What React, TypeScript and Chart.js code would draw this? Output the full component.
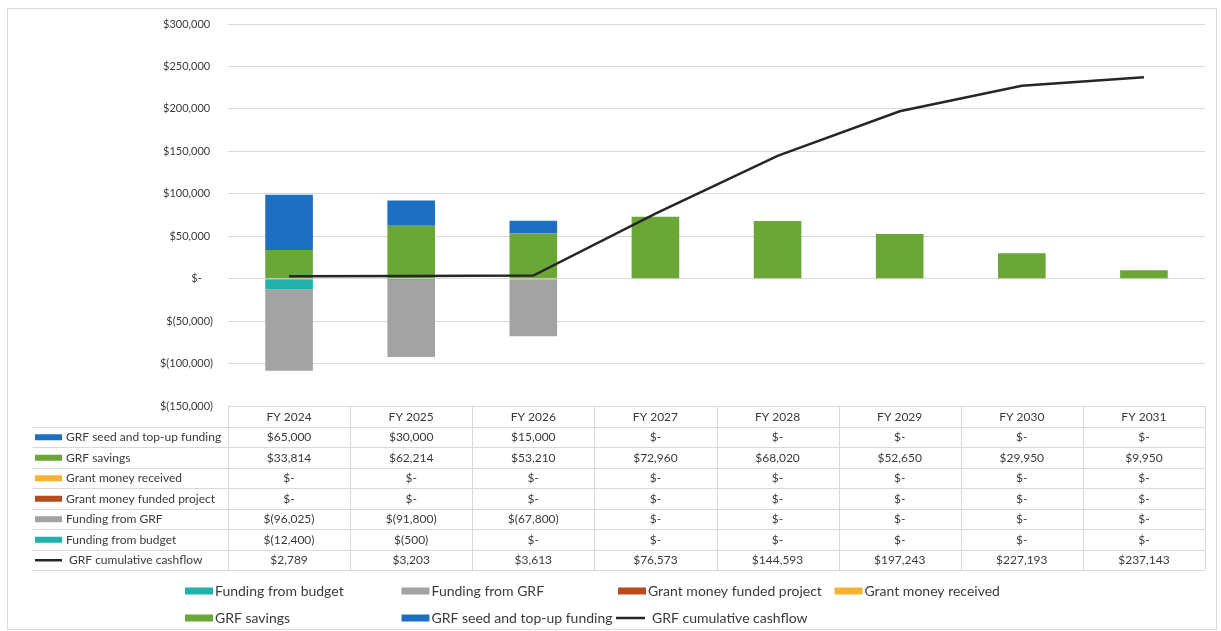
import React, { useEffect, useRef } from "react";
import { Chart, registerables } from "chart.js";

Chart.register(...registerables);

// ---------------- data ----------------
const categories = ["FY 2024", "FY 2025", "FY 2026", "FY 2027", "FY 2028", "FY 2029", "FY 2030", "FY 2031"];
const fundingFromBudget = [-12400, -500, 0, 0, 0, 0, 0, 0];
const fundingFromGRF = [-96025, -91800, -67800, 0, 0, 0, 0, 0];
const grantMoneyFundedProject = [0, 0, 0, 0, 0, 0, 0, 0];
const grantMoneyReceived = [0, 0, 0, 0, 0, 0, 0, 0];
const grfSavings = [33814, 62214, 53210, 72960, 68020, 52650, 29950, 9950];
const grfSeedTopUp = [65000, 30000, 15000, 0, 0, 0, 0, 0];
const grfCumulative = [2789, 3203, 3613, 76573, 144593, 197243, 227193, 237143];
const yMin = -150000;
const yMax = 300000;
const yStep = 50000;

// ---------------- styles ----------------
const FONT = "Lato, 'Noto Sans', 'DejaVu Sans', sans-serif";
const TEXT = "#3A3A3A";
const GRID = "#D9D9D9";
const C_BUDGET = "#22B2AC";
const C_GRF = "#A3A3A3";
const C_FUNDED = "#B94A1C";
const C_RECEIVED = "#F5B335";
const C_SAVINGS = "#6AA736";
const C_SEED = "#1D6FC1";
const C_LINE = "#262626";

function fmt(v: number): string {
  if (v === 0) return "$-";
  const a = Math.abs(Math.round(v)).toString().replace(/\B(?=(\d{3})+(?!\d))/g, ",");
  return v < 0 ? "$(" + a + ")" : "$" + a;
}

type Row = { label: string; data: number[]; color: string; line?: boolean };

const tableRows: Row[] = [
  { label: "GRF seed and top-up funding", data: grfSeedTopUp, color: C_SEED },
  { label: "GRF savings", data: grfSavings, color: C_SAVINGS },
  { label: "Grant money received", data: grantMoneyReceived, color: C_RECEIVED },
  { label: "Grant money funded project", data: grantMoneyFundedProject, color: C_FUNDED },
  { label: "Funding from GRF", data: fundingFromGRF, color: C_GRF },
  { label: "Funding from budget", data: fundingFromBudget, color: C_BUDGET },
  { label: "GRF cumulative cashflow", data: grfCumulative, color: C_LINE, line: true },
];

const legendRows: Row[][] = [
  [
    { label: "Funding from budget", data: fundingFromBudget, color: C_BUDGET },
    { label: "Funding from GRF", data: fundingFromGRF, color: C_GRF },
    { label: "Grant money funded project", data: grantMoneyFundedProject, color: C_FUNDED },
    { label: "Grant money received", data: grantMoneyReceived, color: C_RECEIVED },
  ],
  [
    { label: "GRF savings", data: grfSavings, color: C_SAVINGS },
    { label: "GRF seed and top-up funding", data: grfSeedTopUp, color: C_SEED },
    { label: "GRF cumulative cashflow", data: grfCumulative, color: C_LINE, line: true },
  ],
];

const framePlugin = {
  id: "frame",
  beforeDraw(chart: any) {
    const { ctx, width, height } = chart;
    ctx.save();
    ctx.fillStyle = "#ffffff";
    ctx.fillRect(0, 0, width, height);
    ctx.strokeStyle = "#DADADA";
    ctx.lineWidth = 1;
    ctx.strokeRect(7.5, 8.5, 1209, 621);
    ctx.restore();
  },
};

const tablePlugin = {
  id: "dataTable",
  afterDraw(chart: any) {
    const { ctx, chartArea } = chart;
    const xs = chart.scales.x;
    const left = chartArea.left;
    const right = chartArea.right;
    const top = chartArea.bottom;
    const rowH = 20.5;
    const nRows = tableRows.length + 1;
    const tableLeft = 32;
    const colW = (right - left) / categories.length;
    ctx.save();
    ctx.strokeStyle = GRID;
    ctx.lineWidth = 1;
    ctx.beginPath();
    for (let k = 1; k <= nRows; k++) {
      const y = Math.round(top + k * rowH) + 0.5;
      ctx.moveTo(tableLeft, y);
      ctx.lineTo(right, y);
    }
    for (let j = 0; j <= categories.length; j++) {
      const x = Math.round(left + j * colW) + 0.5;
      ctx.moveTo(x, top);
      ctx.lineTo(x, top + nRows * rowH);
    }
    ctx.stroke();

    ctx.fillStyle = TEXT;
    ctx.font = `12px ${FONT}`;
    ctx.textBaseline = "middle";
    ctx.textAlign = "center";
    categories.forEach((c, i) => ctx.fillText(c, xs.getPixelForValue(i), top + rowH / 2 + 0.5));

    tableRows.forEach((row, r) => {
      const cy = top + (r + 1.5) * rowH + 0.5;
      if (row.line) {
        ctx.strokeStyle = row.color;
        ctx.lineWidth = 2.5;
        ctx.beginPath();
        ctx.moveTo(35, cy);
        ctx.lineTo(62, cy);
        ctx.stroke();
      } else {
        ctx.fillStyle = row.color;
        ctx.fillRect(35, cy - 3, 27, 6);
      }
      ctx.fillStyle = TEXT;
      ctx.textAlign = "left";
      ctx.fillText(row.label, row.line ? 69 : 66, cy);
      ctx.textAlign = "center";
      row.data.forEach((v, i) => ctx.fillText(fmt(v), xs.getPixelForValue(i), cy));
    });

    // bottom legend
    const legStartX = 185;
    const legColW = 216.5;
    const legY = [591, 618];
    ctx.font = `14px ${FONT}`;
    legendRows.forEach((items, ri) => {
      items.forEach((it, ci) => {
        const x0 = legStartX + ci * legColW;
        const cy = legY[ri];
        if (it.line) {
          ctx.strokeStyle = it.color;
          ctx.lineWidth = 2.5;
          ctx.beginPath();
          ctx.moveTo(x0 - 2, cy);
          ctx.lineTo(x0 + 27, cy);
          ctx.stroke();
          ctx.fillStyle = TEXT;
          ctx.textAlign = "left";
          ctx.fillText(it.label, x0 + 34, cy);
        } else {
          ctx.fillStyle = it.color;
          ctx.fillRect(x0, cy - 3.5, 28, 7);
          ctx.fillStyle = TEXT;
          ctx.textAlign = "left";
          ctx.fillText(it.label, x0 + 30, cy);
        }
      });
    });
    ctx.restore();
  },
};

export default function App() {
  const ref = useRef<HTMLCanvasElement>(null);
  useEffect(() => {
    if (!ref.current) return;
    Chart.defaults.font.family = FONT;
    const barCommon = { stack: "bars", barPercentage: 0.39, categoryPercentage: 1, borderWidth: 0 };
    const chart = new Chart(ref.current, {
      type: "bar",
      data: {
        labels: categories,
        datasets: [
          { label: "Funding from budget", data: fundingFromBudget, backgroundColor: C_BUDGET, ...barCommon },
          { label: "Funding from GRF", data: fundingFromGRF, backgroundColor: C_GRF, ...barCommon },
          { label: "Grant money funded project", data: grantMoneyFundedProject, backgroundColor: C_FUNDED, ...barCommon },
          { label: "Grant money received", data: grantMoneyReceived, backgroundColor: C_RECEIVED, ...barCommon },
          { label: "GRF savings", data: grfSavings, backgroundColor: C_SAVINGS, ...barCommon },
          { label: "GRF seed and top-up funding", data: grfSeedTopUp, backgroundColor: C_SEED, ...barCommon },
          {
            type: "line",
            label: "GRF cumulative cashflow",
            data: grfCumulative,
            borderColor: C_LINE,
            backgroundColor: C_LINE,
            borderWidth: 2.5,
            pointRadius: 0,
            tension: 0,
            stack: "line",
            order: -1,
          } as any,
        ],
      },
      options: {
        animation: false,
        responsive: false,
        layout: { padding: { left: 0, right: 16, top: 24, bottom: 225 } },
        plugins: { legend: { display: false }, tooltip: { enabled: false } },
        scales: {
          x: { display: false, stacked: true, offset: true },
          y: {
            stacked: true,
            min: yMin,
            max: yMax,
            border: { display: false },
            grid: { color: GRID, drawTicks: false, lineWidth: 1 },
            ticks: {
              stepSize: yStep,
              padding: 15,
              color: TEXT,
              font: { size: 11, family: FONT },
              callback: (v: any) => {
                const n = Number(v);
                if (n === 0) return "$-    ";
                return n > 0 ? fmt(n) + " " : fmt(n);
              },
            },
            afterFit: (s: any) => {
              s.width = 228;
            },
          },
        },
      },
      plugins: [framePlugin, tablePlugin],
    } as any);
    return () => chart.destroy();
  }, []);
  return (
    <div style={{ position: "fixed", left: 0, top: 0, width: 1221, height: 631, background: "#fff" }}>
      <canvas ref={ref} width={1221} height={631} style={{ display: "block" }} />
    </div>
  );
}
